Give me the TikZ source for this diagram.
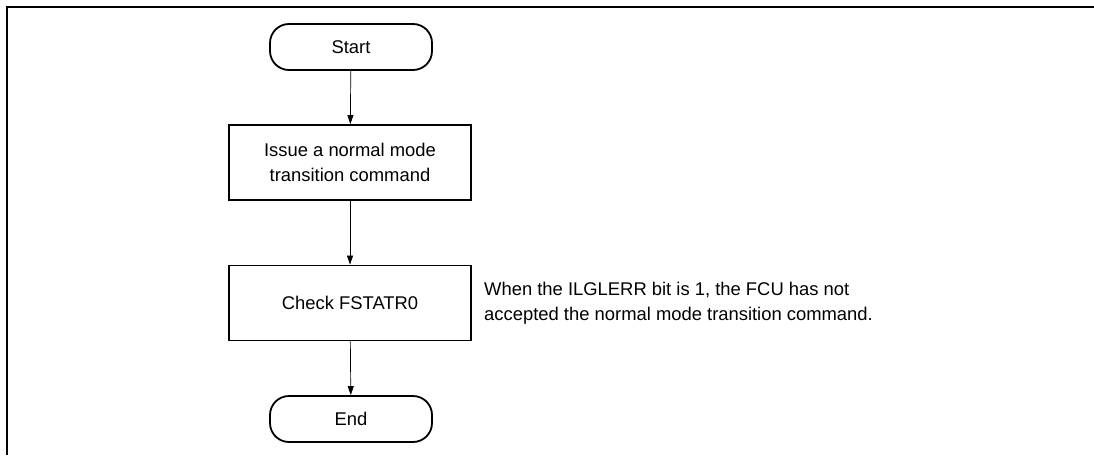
\documentclass[tikz,border=0pt]{standalone}
\usepackage{fontspec}
\setmainfont{Liberation Sans}
\usetikzlibrary{arrows.meta}
\begin{document}
\begin{tikzpicture}[x=1pt,y=-1pt,
  font=\fontsize{18.4}{25}\selectfont,
  term/.style={draw,line width=1.8pt,rounded corners=19pt,minimum width=162pt,minimum height=46pt,inner sep=0pt},
  proc/.style={draw,line width=1.8pt,minimum width=242pt,minimum height=75pt,align=center,inner sep=0pt},
  flow/.style={line width=0.7pt,-{Triangle[length=9pt,width=6pt]}},
  frame/.style={line width=2.2pt}]
\useasboundingbox (0,0) rectangle (1094,455);
\draw[frame] (7,455) -- (7,7) -- (1094,7);
\node[term] (start) at (351,47) {Start};
\node[proc] (issue) at (350,162.5) {Issue a normal mode\\transition command};
\node[proc] (check) at (350,303) {Check FSTATR0};
\node[term] (end) at (351,419) {End};
\node[anchor=west,align=left,inner sep=0pt] (note) at (484,303) {When the ILGLERR bit is 1, the FCU has not\\accepted the normal mode transition command.};
\draw[flow] (start) -- (issue);
\draw[flow] (issue) -- (check);
\draw[flow] (check) -- (end);
\end{tikzpicture}
\end{document}
